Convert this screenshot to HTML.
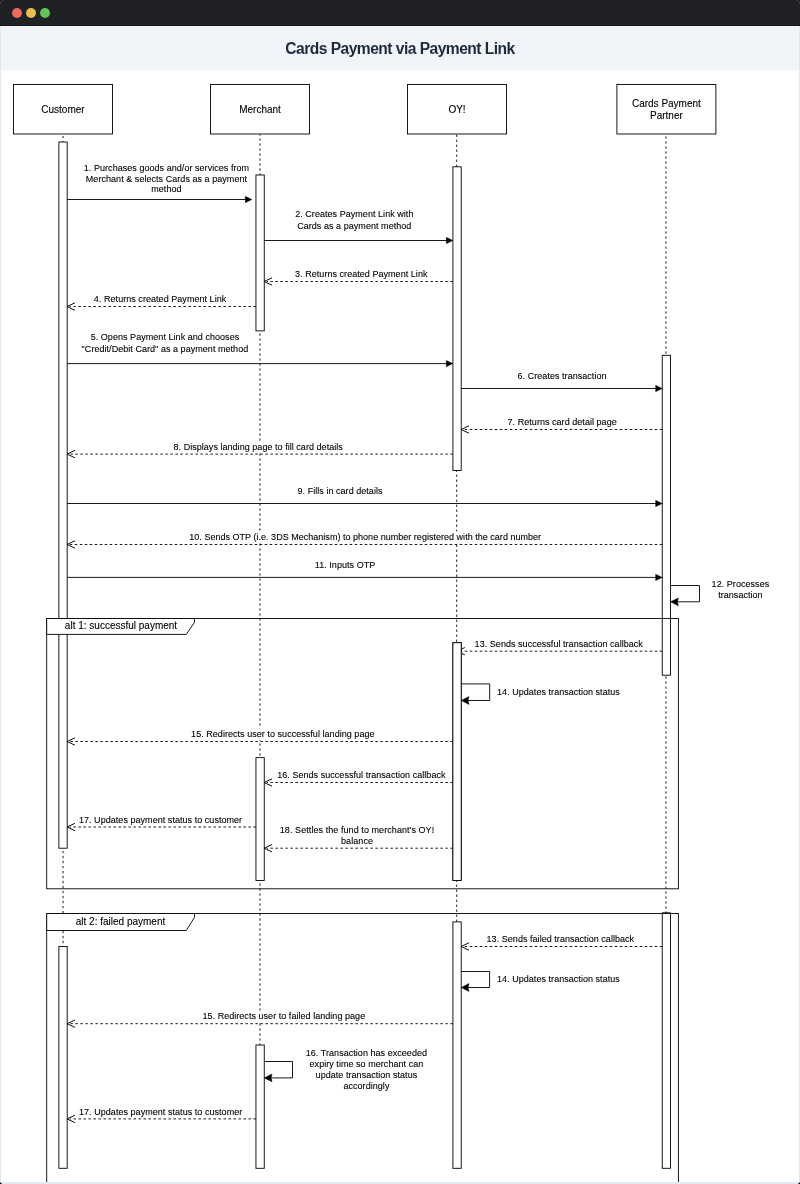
<!DOCTYPE html>
<html><head><meta charset="utf-8">
<style>
html,body{margin:0;padding:0;background:#000;}
body{width:800px;height:1184px;overflow:hidden;position:relative;}
.win{position:absolute;left:0;top:0;width:800px;height:1184px;background:#fff;border-radius:4px;overflow:hidden;}
.bar{position:absolute;left:0;top:0;width:800px;height:26px;background:#202124;}
.dot{position:absolute;top:8px;width:10px;height:10px;border-radius:50%;}
.head{position:absolute;left:0;top:26px;width:800px;height:44px;background:#f1f5f9;}
.title{position:absolute;left:0;top:27px;width:800px;height:44px;line-height:44px;text-align:center;font-family:"Liberation Sans",sans-serif;font-weight:700;font-size:15.6px;letter-spacing:-0.53px;color:#1e293b;will-change:transform;}
.bl{position:absolute;left:0;top:26px;width:1px;height:1158px;background:#e2e8f0;}
.br{position:absolute;right:0;top:26px;width:1px;height:1158px;background:#e2e8f0;}
.bb{position:absolute;left:0;top:1182px;width:800px;height:2px;background:#e2e8f0;}
svg{position:absolute;left:0;top:0;will-change:transform;}
text{font-family:"Liberation Sans",sans-serif;fill:#000;stroke:#000;stroke-width:0.1px;}
.p{font-size:10px;text-anchor:middle;}
.a{font-size:9px;text-anchor:middle;}
.f{font-size:10px;text-anchor:middle;}
</style></head><body>
<div class="win">
<div class="bar"></div><div style="position:absolute;left:0;top:25px;width:800px;height:1px;background:#141518;"></div>
<div class="dot" style="left:12px;background:#ed6a5e;"></div>
<div class="dot" style="left:26px;background:#e6bf4e;"></div>
<div class="dot" style="left:40px;background:#61c454;"></div>
<div class="head"></div>
<div class="title">Cards Payment via Payment Link</div>
<svg width="800" height="1184" viewBox="0 0 800 1184">
<line x1="63.05" y1="134.4" x2="63.05" y2="1168" stroke="#000" stroke-width="0.9" stroke-dasharray="2.3 2.7" stroke-dashoffset="3.5"/>
<line x1="259.95" y1="134.4" x2="259.95" y2="1168" stroke="#000" stroke-width="0.9" stroke-dasharray="2.3 2.7" stroke-dashoffset="1.0"/>
<line x1="456.7" y1="134.4" x2="456.7" y2="1168" stroke="#000" stroke-width="0.9" stroke-dasharray="2.3 2.7" stroke-dashoffset="4.8"/>
<line x1="665.95" y1="134.4" x2="665.95" y2="1168" stroke="#000" stroke-width="0.9" stroke-dasharray="2.3 2.7" stroke-dashoffset="3.0"/>
<rect x="13.5" y="84.5" width="99" height="49.5" fill="#fff" stroke="#000" stroke-width="0.9"/>
<text x="63.0" y="112.6" class="p">Customer</text>
<rect x="210.5" y="84.5" width="99" height="49.5" fill="#fff" stroke="#000" stroke-width="0.9"/>
<text x="260.0" y="112.6" class="p">Merchant</text>
<rect x="407.5" y="84.5" width="99" height="49.5" fill="#fff" stroke="#000" stroke-width="0.9"/>
<text x="457.0" y="112.6" class="p">OY!</text>
<rect x="616.9" y="84.5" width="99" height="49.5" fill="#fff" stroke="#000" stroke-width="0.9"/>
<text x="666.4" y="107.0" class="p">Cards Payment</text>
<text x="666.4" y="119.1" class="p">Partner</text>
<rect x="58.88" y="142" width="8.30" height="706.20" fill="#fff" stroke="#000" stroke-width="0.9"/>
<rect x="58.88" y="946.5" width="8.30" height="221.80" fill="#fff" stroke="#000" stroke-width="0.9"/>
<rect x="255.95" y="175" width="8.30" height="155.90" fill="#fff" stroke="#000" stroke-width="0.9"/>
<rect x="255.95" y="757.6" width="8.30" height="122.90" fill="#fff" stroke="#000" stroke-width="0.9"/>
<rect x="255.95" y="1045" width="8.30" height="123.30" fill="#fff" stroke="#000" stroke-width="0.9"/>
<rect x="452.90" y="166.8" width="8.30" height="303.70" fill="#fff" stroke="#000" stroke-width="0.9"/>
<rect x="452.90" y="642.7" width="8.30" height="237.80" fill="#fff" stroke="#000" stroke-width="0.9"/>
<rect x="452.90" y="921.9" width="8.30" height="246.40" fill="#fff" stroke="#000" stroke-width="0.9"/>
<rect x="662.25" y="355.3" width="8.30" height="319.90" fill="#fff" stroke="#000" stroke-width="0.9"/>
<rect x="662.25" y="912.8" width="8.30" height="255.50" fill="#fff" stroke="#000" stroke-width="0.9"/>
<rect x="46.7" y="618.5" width="631.7" height="270.29999999999995" fill="none" stroke="#000" stroke-width="0.9"/>
<path d="M46.7 618.5 H194.5 V622.3 L186.3 634.4 H46.7 Z" fill="#fff" stroke="#000" stroke-width="0.9"/>
<text x="121.0" y="628.95" class="f">alt 1: successful payment</text>
<rect x="46.7" y="913.5" width="631.7" height="326.5" fill="none" stroke="#000" stroke-width="0.9"/>
<path d="M46.7 913.5 H194.5 V917.3 L186.3 930.5 H46.7 Z" fill="#fff" stroke="#000" stroke-width="0.9"/>
<text x="120.5" y="924.6" class="f">alt 2: failed payment</text>
<line x1="67.18" y1="199.5" x2="246.90" y2="199.5" stroke="#000" stroke-width="0.9"/>
<path d="M245.30 196.3 L251.90 199.5 L245.30 202.7 Z" fill="#000" stroke="#000" stroke-width="0.4"/>
<rect x="82.81" y="162.75" width="167.21" height="32.70" fill="#fff"/>
<text x="166.41789062499998" y="171.25" class="a" textLength="165.21" lengthAdjust="spacing">1. Purchases goods and/or services from</text>
<text x="166.41789062499998" y="181.85" class="a" textLength="161.17" lengthAdjust="spacing">Merchant &amp; selects Cards as a payment</text>
<text x="166.41789062499998" y="192.45" class="a" textLength="30.33" lengthAdjust="spacing">method</text>
<line x1="264.25" y1="240.5" x2="447.90" y2="240.5" stroke="#000" stroke-width="0.9"/>
<path d="M446.30 237.3 L452.90 240.5 L446.30 243.7 Z" fill="#000" stroke="#000" stroke-width="0.4"/>
<rect x="294.17" y="208.90" width="120.23" height="22.70" fill="#fff"/>
<text x="354.2853125" y="217.40" class="a" textLength="118.23" lengthAdjust="spacing">2. Creates Payment Link with</text>
<text x="354.2853125" y="228.60" class="a" textLength="114.19" lengthAdjust="spacing">Cards as a payment method</text>
<line x1="452.90" y1="281.5" x2="266.75" y2="281.5" stroke="#000" stroke-width="0.9" stroke-dasharray="2.5 2.5"/>
<path d="M272.05 277.8 L264.15 281.5 L272.05 285.2" fill="none" stroke="#000" stroke-width="0.95" stroke-linejoin="round"/>
<rect x="294.06" y="268.50" width="134.39" height="11.50" fill="#fff"/>
<text x="361.255390625" y="277.00" class="a" textLength="132.39" lengthAdjust="spacing">3. Returns created Payment Link</text>
<line x1="255.95" y1="306.5" x2="69.68" y2="306.5" stroke="#000" stroke-width="0.9" stroke-dasharray="2.5 2.5"/>
<path d="M74.98 302.8 L67.08 306.5 L74.98 310.2" fill="none" stroke="#000" stroke-width="0.95" stroke-linejoin="round"/>
<rect x="92.86" y="293.50" width="134.39" height="11.50" fill="#fff"/>
<text x="160.055390625" y="302.00" class="a" textLength="132.39" lengthAdjust="spacing">4. Returns created Payment Link</text>
<line x1="67.18" y1="363.6" x2="447.90" y2="363.6" stroke="#000" stroke-width="0.9"/>
<path d="M446.30 360.40000000000003 L452.90 363.6 L446.30 366.8 Z" fill="#000" stroke="#000" stroke-width="0.4"/>
<rect x="80.62" y="331.90" width="168.62" height="22.70" fill="#fff"/>
<text x="164.92484375" y="340.40" class="a" textLength="148.56" lengthAdjust="spacing">5. Opens Payment Link and chooses</text>
<text x="164.92484375" y="351.60" class="a" textLength="166.62" lengthAdjust="spacing">"Credit/Debit Card" as a payment method</text>
<line x1="461.20" y1="388.5" x2="657.25" y2="388.5" stroke="#000" stroke-width="0.9"/>
<path d="M655.65 385.3 L662.25 388.5 L655.65 391.7 Z" fill="#000" stroke="#000" stroke-width="0.4"/>
<rect x="516.58" y="370.50" width="90.93" height="11.50" fill="#fff"/>
<text x="562.0402343750001" y="379.00" class="a" textLength="88.93" lengthAdjust="spacing">6. Creates transaction</text>
<line x1="662.25" y1="429.5" x2="463.70" y2="429.5" stroke="#000" stroke-width="0.9" stroke-dasharray="2.5 2.5"/>
<path d="M469.00 425.8 L461.10 429.5 L469.00 433.2" fill="none" stroke="#000" stroke-width="0.95" stroke-linejoin="round"/>
<rect x="506.56" y="416.30" width="111.16" height="11.50" fill="#fff"/>
<text x="562.140390625" y="424.80" class="a" textLength="109.16" lengthAdjust="spacing">7. Returns card detail page</text>
<line x1="452.90" y1="454.1" x2="69.68" y2="454.1" stroke="#000" stroke-width="0.9" stroke-dasharray="2.5 2.5"/>
<path d="M74.98 450.40000000000003 L67.08 454.1 L74.98 457.8" fill="none" stroke="#000" stroke-width="0.95" stroke-linejoin="round"/>
<rect x="172.50" y="441.20" width="171.29" height="11.50" fill="#fff"/>
<text x="258.138046875" y="449.70" class="a" textLength="169.29" lengthAdjust="spacing">8. Displays landing page to fill card details</text>
<line x1="67.18" y1="503.5" x2="657.25" y2="503.5" stroke="#000" stroke-width="0.9"/>
<path d="M655.65 500.3 L662.25 503.5 L655.65 506.7 Z" fill="#000" stroke="#000" stroke-width="0.4"/>
<rect x="296.58" y="485.50" width="86.89" height="11.50" fill="#fff"/>
<text x="340.02023437500003" y="494.00" class="a" textLength="84.89" lengthAdjust="spacing">9. Fills in card details</text>
<line x1="662.25" y1="544.5" x2="69.68" y2="544.5" stroke="#000" stroke-width="0.9" stroke-dasharray="2.5 2.5"/>
<path d="M74.98 540.8 L67.08 544.5 L74.98 548.2" fill="none" stroke="#000" stroke-width="0.95" stroke-linejoin="round"/>
<rect x="188.29" y="531.40" width="353.77" height="11.50" fill="#fff"/>
<text x="365.1750390625" y="539.90" class="a" textLength="351.77" lengthAdjust="spacing">10. Sends OTP (i.e. 3DS Mechanism) to phone number registered with the card number</text>
<line x1="67.18" y1="577.4" x2="657.25" y2="577.4" stroke="#000" stroke-width="0.9"/>
<path d="M655.65 574.1999999999999 L662.25 577.4 L655.65 580.6 Z" fill="#000" stroke="#000" stroke-width="0.4"/>
<rect x="313.76" y="559.40" width="62.47" height="11.50" fill="#fff"/>
<text x="344.999375" y="567.90" class="a" textLength="60.47" lengthAdjust="spacing">11. Inputs OTP</text>
<path d="M670.55 585.5 H699.5 V601.8 H675.55" fill="none" stroke="#000" stroke-width="0.9"/>
<path d="M678.35 597.9 L670.55 601.8 L678.35 605.6999999999999 L677.35 601.8 Z" fill="#000" stroke="#000" stroke-width="0.5"/>
<rect x="710.58" y="578.10" width="59.60" height="22.70" fill="#fff"/>
<text x="740.38515625" y="586.60" class="a" textLength="57.60" lengthAdjust="spacing">12. Processes</text>
<text x="740.38515625" y="597.80" class="a" textLength="44.47" lengthAdjust="spacing">transaction</text>
<line x1="662.25" y1="651.2" x2="459.55" y2="651.2" stroke="#000" stroke-width="0.9" stroke-dasharray="2.5 2.5"/>
<path d="M464.85 647.5 L456.95 651.2 L464.85 654.9000000000001" fill="none" stroke="#000" stroke-width="0.95" stroke-linejoin="round"/>
<rect x="473.60" y="638.10" width="170.26" height="11.50" fill="#fff"/>
<text x="558.7329687499999" y="646.60" class="a" textLength="168.26" lengthAdjust="spacing">13. Sends successful transaction callback</text>
<rect x="452.90" y="642.7" width="8.30" height="237.80" fill="#fff" stroke="#000" stroke-width="0.9"/>
<path d="M461.20 683.9 H489.7 V700.5 H466.20" fill="none" stroke="#000" stroke-width="0.9"/>
<path d="M469.00 696.6 L461.20 700.5 L469.00 704.4 L468.00 700.5 Z" fill="#000" stroke="#000" stroke-width="0.5"/>
<text x="497.0" y="694.80" class="a" style="text-anchor:start" textLength="122.79" lengthAdjust="spacing">14. Updates transaction status</text>
<line x1="452.90" y1="741.5" x2="69.68" y2="741.5" stroke="#000" stroke-width="0.9" stroke-dasharray="2.5 2.5"/>
<path d="M74.98 737.8 L67.08 741.5 L74.98 745.2" fill="none" stroke="#000" stroke-width="0.95" stroke-linejoin="round"/>
<rect x="190.10" y="728.50" width="185.43" height="11.50" fill="#fff"/>
<text x="282.808046875" y="737.00" class="a" textLength="183.43" lengthAdjust="spacing">15. Redirects user to successful landing page</text>
<line x1="452.90" y1="782.5" x2="266.75" y2="782.5" stroke="#000" stroke-width="0.9" stroke-dasharray="2.5 2.5"/>
<path d="M272.05 778.8 L264.15 782.5 L272.05 786.2" fill="none" stroke="#000" stroke-width="0.95" stroke-linejoin="round"/>
<rect x="276.20" y="769.30" width="170.26" height="11.50" fill="#fff"/>
<text x="361.33296875" y="777.80" class="a" textLength="168.26" lengthAdjust="spacing">16. Sends successful transaction callback</text>
<line x1="255.95" y1="827.0" x2="69.68" y2="827.0" stroke="#000" stroke-width="0.9" stroke-dasharray="2.5 2.5"/>
<path d="M74.98 823.3 L67.08 827.0 L74.98 830.7" fill="none" stroke="#000" stroke-width="0.95" stroke-linejoin="round"/>
<rect x="77.90" y="814.10" width="165.21" height="11.50" fill="#fff"/>
<text x="160.50796875" y="822.60" class="a" textLength="163.21" lengthAdjust="spacing">17. Updates payment status to customer</text>
<line x1="452.90" y1="848.2" x2="266.75" y2="848.2" stroke="#000" stroke-width="0.9" stroke-dasharray="2.5 2.5"/>
<path d="M272.05 844.5 L264.15 848.2 L272.05 851.9000000000001" fill="none" stroke="#000" stroke-width="0.95" stroke-linejoin="round"/>
<rect x="278.79" y="824.10" width="156.39" height="22.40" fill="#fff"/>
<text x="356.99040625" y="832.60" class="a" textLength="154.39" lengthAdjust="spacing">18. Settles the fund to merchant's OY!</text>
<text x="356.99040625" y="843.50" class="a" textLength="32.07" lengthAdjust="spacing">balance</text>
<line x1="662.25" y1="946.5" x2="463.70" y2="946.5" stroke="#000" stroke-width="0.9" stroke-dasharray="2.5 2.5"/>
<path d="M469.00 942.8 L461.10 946.5 L469.00 950.2" fill="none" stroke="#000" stroke-width="0.95" stroke-linejoin="round"/>
<rect x="485.55" y="933.50" width="149.55" height="11.50" fill="#fff"/>
<text x="560.33046875" y="942.00" class="a" textLength="147.55" lengthAdjust="spacing">13. Sends failed transaction callback</text>
<path d="M461.20 971.5 H489.6 V987.5 H466.20" fill="none" stroke="#000" stroke-width="0.9"/>
<path d="M469.00 983.6 L461.20 987.5 L469.00 991.4 L468.00 987.5 Z" fill="#000" stroke="#000" stroke-width="0.5"/>
<text x="497.0" y="982.00" class="a" style="text-anchor:start" textLength="122.79" lengthAdjust="spacing">14. Updates transaction status</text>
<line x1="452.90" y1="1023.7" x2="69.68" y2="1023.7" stroke="#000" stroke-width="0.9" stroke-dasharray="2.5 2.5"/>
<path d="M74.98 1020.0 L67.08 1023.7 L74.98 1027.4" fill="none" stroke="#000" stroke-width="0.95" stroke-linejoin="round"/>
<rect x="201.45" y="1010.80" width="164.72" height="11.50" fill="#fff"/>
<text x="283.805546875" y="1019.30" class="a" textLength="162.72" lengthAdjust="spacing">15. Redirects user to failed landing page</text>
<path d="M264.25 1061.5 H292.5 V1077.9 H269.25" fill="none" stroke="#000" stroke-width="0.9"/>
<path d="M272.05 1074.0 L264.25 1077.9 L272.05 1081.8000000000002 L271.05 1077.9 Z" fill="#000" stroke="#000" stroke-width="0.5"/>
<rect x="304.75" y="1047.60" width="123.29" height="43.90" fill="#fff"/>
<text x="366.40046875" y="1056.10" class="a" textLength="121.29" lengthAdjust="spacing">16. Transaction has exceeded</text>
<text x="366.40046875" y="1066.90" class="a" textLength="113.67" lengthAdjust="spacing">expiry time so merchant can</text>
<text x="366.40046875" y="1077.70" class="a" textLength="101.58" lengthAdjust="spacing">update transaction status</text>
<text x="366.40046875" y="1088.50" class="a" textLength="45.99" lengthAdjust="spacing">accordingly</text>
<line x1="255.95" y1="1118.9" x2="69.68" y2="1118.9" stroke="#000" stroke-width="0.9" stroke-dasharray="2.5 2.5"/>
<path d="M74.98 1115.2 L67.08 1118.9 L74.98 1122.6000000000001" fill="none" stroke="#000" stroke-width="0.95" stroke-linejoin="round"/>
<rect x="78.00" y="1106.00" width="165.21" height="11.50" fill="#fff"/>
<text x="160.60796875000003" y="1114.50" class="a" textLength="163.21" lengthAdjust="spacing">17. Updates payment status to customer</text>
</svg>
<div class="bl"></div><div class="br"></div><div class="bb"></div>
</div>
</body></html>
